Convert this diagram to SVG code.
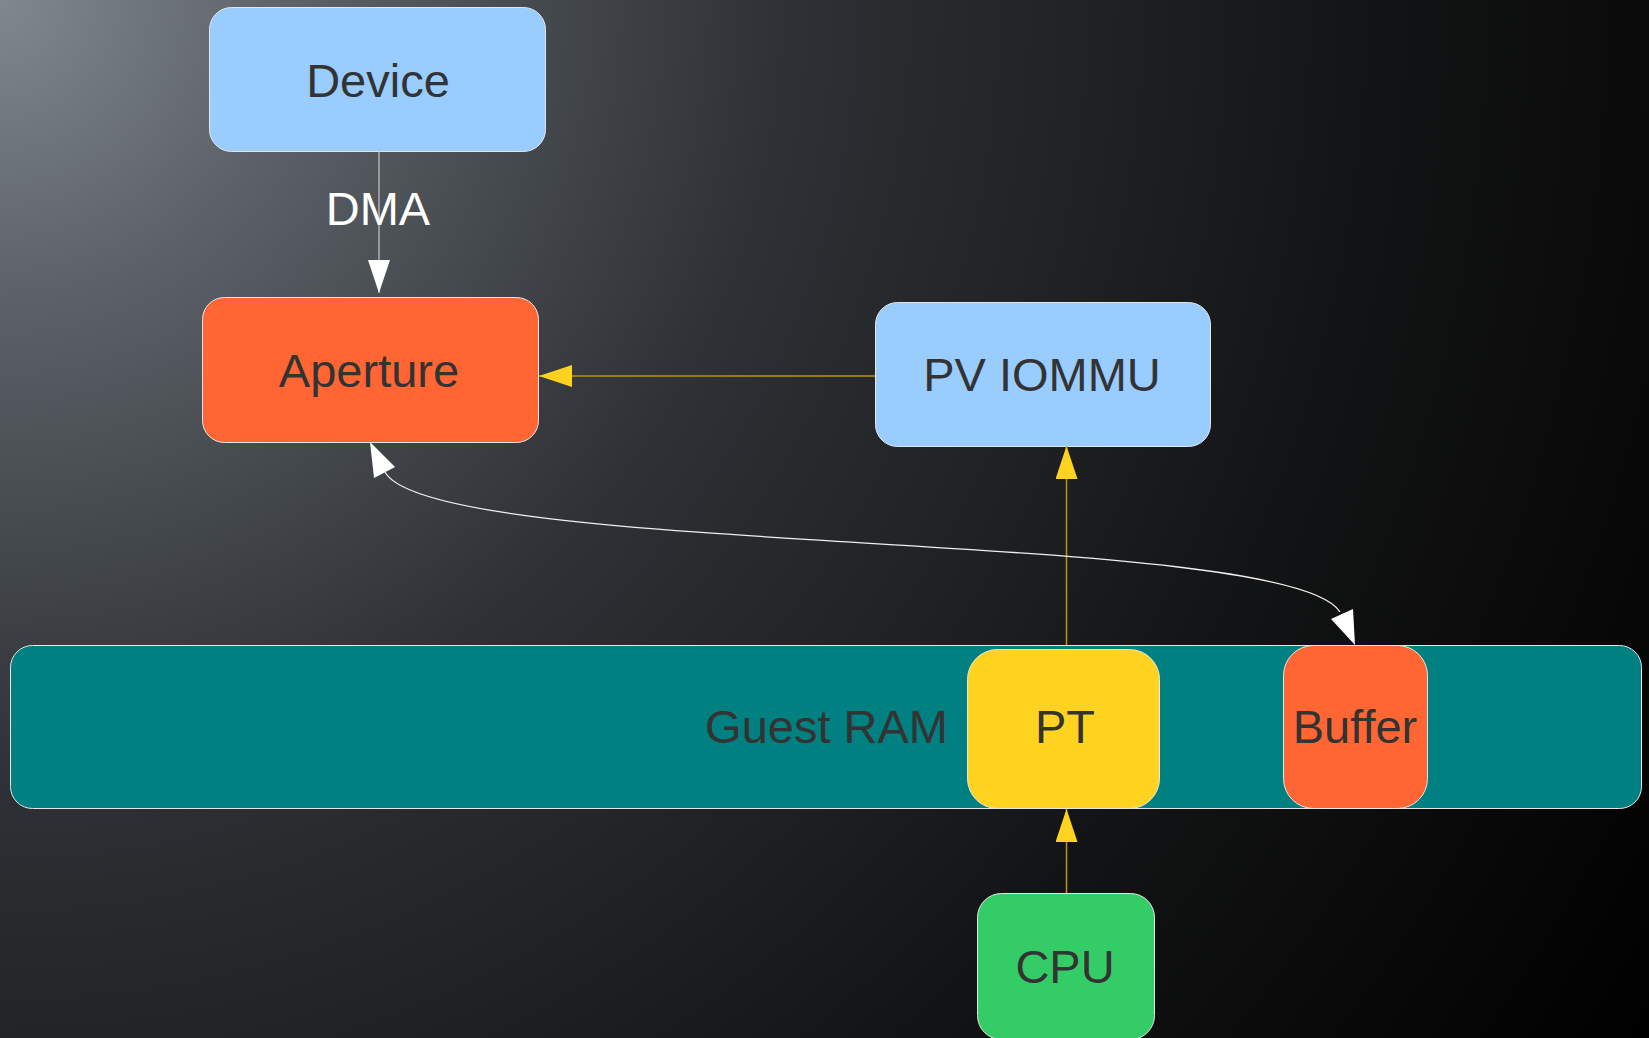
<svg xmlns="http://www.w3.org/2000/svg" width="1649" height="1038" viewBox="0 0 1649 1038">
<defs>
<radialGradient id="bg" cx="0" cy="0" r="1950" gradientUnits="userSpaceOnUse">
<stop offset="0" stop-color="#80878e"/>
<stop offset="0.15" stop-color="#5c6268"/>
<stop offset="0.4" stop-color="#2e3135"/>
<stop offset="0.7" stop-color="#131415"/>
<stop offset="1" stop-color="#000"/>
</radialGradient>
<marker id="wa" markerUnits="userSpaceOnUse" markerWidth="34" markerHeight="22" refX="33" refY="11" orient="auto" viewBox="0 0 34 22">
<path d="M0,0 L33,11 L0,22 Z" fill="#fff"/>
</marker>
<marker id="ya" markerUnits="userSpaceOnUse" markerWidth="34" markerHeight="22" refX="33" refY="11" orient="auto" viewBox="0 0 34 22">
<path d="M0,0 L33,11 L0,22 Z" fill="#ffd21f"/>
</marker>
</defs>
<style>
.n{stroke:#e6e6e6;stroke-width:1}
.t{font-family:"Liberation Sans",Arial,sans-serif;font-size:47px;fill:#333;text-anchor:middle}
.blue{fill:#99ccff}
.orange{fill:#ff6633}
</style>
<rect width="1649" height="1038" fill="url(#bg)"/>
<g id="guest-ram">
<rect class="n" x="10.5" y="645.5" width="1631" height="163" rx="22" fill="#008080"/>
<text class="t" x="948" y="743" style="text-anchor:end">Guest RAM</text>
</g>
<g id="device">
<rect class="n blue" x="209.5" y="7.5" width="336" height="144" rx="22"/>
<text class="t" x="378" y="97">Device</text>
</g>
<g id="aperture">
<rect class="n orange" x="202.5" y="297.5" width="336" height="145" rx="22"/>
<text class="t" x="369" y="387">Aperture</text>
</g>
<g id="pv-iommu">
<rect class="n blue" x="875.5" y="302.5" width="335" height="144" rx="22"/>
<text class="t" x="1042" y="391">PV IOMMU</text>
</g>
<g id="pt">
<rect class="n" x="967.5" y="649.5" width="192" height="159" rx="30" fill="#ffd320"/>
<text class="t" x="1065" y="743">PT</text>
</g>
<g id="buffer">
<rect class="n orange" x="1283.5" y="645.5" width="144" height="163" rx="30"/>
<text class="t" x="1355" y="743">Buffer</text>
</g>
<g id="cpu">
<rect class="n" x="977.5" y="893.5" width="177" height="146" rx="24" fill="#33cc66"/>
<text class="t" x="1065" y="983">CPU</text>
</g>
<g id="connectors" fill="none">
<line x1="379" y1="151" x2="379" y2="293" stroke="#c8c8c8" stroke-width="1.2" marker-end="url(#wa)"/>
<text x="378" y="225" style="font-family:'Liberation Sans',Arial,sans-serif;font-size:47px;fill:#fff;text-anchor:middle">DMA</text>
<line x1="875" y1="376" x2="539" y2="376" stroke="#b8940f" stroke-width="1.5" marker-end="url(#ya)"/>
<line x1="1066.5" y1="645" x2="1066.5" y2="446" stroke="#b8940f" stroke-width="1.5" marker-end="url(#ya)"/>
<line x1="1066.5" y1="893" x2="1066.5" y2="809" stroke="#b8940f" stroke-width="1.5" marker-end="url(#ya)"/>
<path d="M385,472 C432,558 1290,528 1340,612" stroke="#f0f0f0" stroke-width="1.3"/>
<path d="M370,442 L374,478 L395,467 Z" fill="#fff"/>
<path d="M1355,645 L1331,619 L1353,609 Z" fill="#fff"/>
</g>
</svg>
